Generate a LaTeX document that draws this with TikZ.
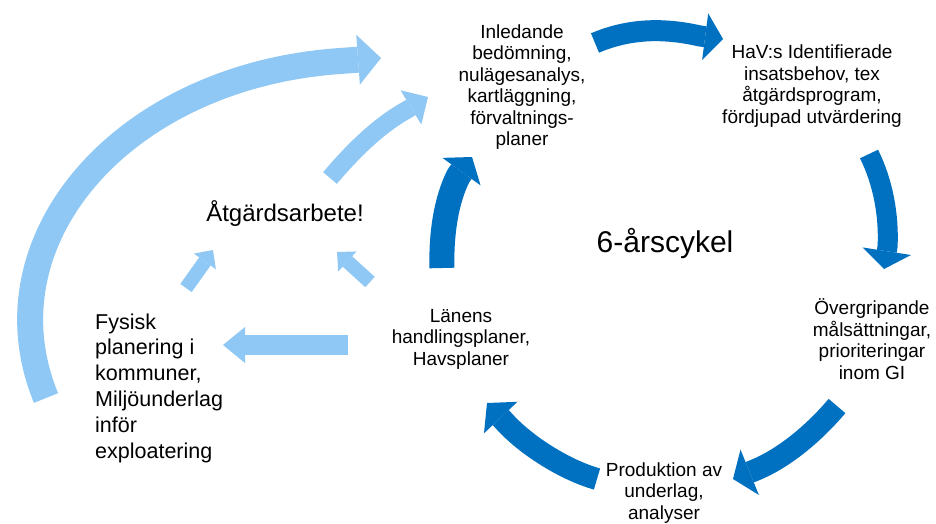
\documentclass[tikz,border=0pt]{standalone}
\usepackage{fontspec}
\setmainfont{Liberation Sans}
\usetikzlibrary{arrows.meta}
\definecolor{darkb}{RGB}{0,112,192}
\definecolor{lightb}{RGB}{143,200,245}
\begin{document}
\begin{tikzpicture}[x=1pt,y=-1pt,
  lbl/.style={font=\fontsize{19}{21.5}\selectfont, align=center, inner sep=0pt},
  darr/.style n args={3}{draw=darkb, line width=#1pt, -{Triangle[width=#2pt,length=#3pt,line width=0pt]}},
  larr/.style n args={3}{draw=lightb, line width=#1pt, -{Triangle[width=#2pt,length=#3pt,line width=0pt]}}]
\fill[white] (0,0) rectangle (936,523);
\useasboundingbox (0,0) rectangle (936,523);

% text nodes
\node[lbl] (inl) at (522,87) {Inledande\\bedömning,\\nulägesanalys,\\kartläggning,\\förvaltnings-\\planer};
\node[lbl] (hav) at (812,86) {HaV:s Identifierade\\insatsbehov, tex\\åtgärdsprogram,\\fördjupad utvärdering};
\node[lbl] (ovr) at (872,339) {Övergripande\\målsättningar,\\prioriteringar\\inom GI};
\node[lbl] (prod) at (664,493) {Produktion av\\underlag,\\analyser};
\node[lbl] (lan) at (461,339) {Länens\\handlingsplaner,\\Havsplaner};
\node[lbl, font=\fontsize{21.5}{25.8}\selectfont, align=left, anchor=west] (fys) at (95,388) {Fysisk\\planering i\\kommuner,\\Miljöunderlag\\inför\\exploatering};
\node[font=\fontsize{24}{28}\selectfont, inner sep=0pt] (atg) at (285,214) {Åtgärdsarbete!};
\node[font=\fontsize{30}{36}\selectfont, inner sep=0pt] (cyc) at (665,244) {6-årscykel};

% dark cycle arrows
\coordinate (a1s) at (595,43);  \coordinate (a1e) at (700,36);  \coordinate (a1t) at (723,39);
\draw[darr={21}{47}{18}] (a1s) .. controls (630,28) and (665,28) .. (a1e) -- (a1t);

\coordinate (a2s) at (869,154); \coordinate (a2e) at (887.6,246); \coordinate (a2t) at (884,269);
\draw[darr={20}{49}{18}] (a2s) .. controls (883,182) and (889,215) .. (a2e) -- (a2t);

\coordinate (a3s) at (837,406); \coordinate (a3e) at (754,470.5); \coordinate (a3t) at (733,479);
\draw[darr={22}{49}{18}] (a3s) .. controls (815,432) and (785,458) .. (a3e) -- (a3t);

\coordinate (a4s) at (597,479); \coordinate (a4e) at (503,420); \coordinate (a4t) at (487,403);
\draw[darr={22}{46}{20}] (a4s) .. controls (565,470) and (525,445) .. (a4e) -- (a4t);

\coordinate (a5s) at (442,268); \coordinate (a5e) at (458.6,175.6); \coordinate (a5t) at (472,157);
\draw[darr={25}{47}{18}] (a5s) .. controls (441,235) and (446,200) .. (a5e) -- (a5t);

% light arrows
\coordinate (b1s) at (46,398); \coordinate (b1e) at (340,61); \coordinate (b1t) at (381,58);
\draw[larr={26}{50}{23}] (b1s) .. controls (-19,240) and (123,76) .. (b1e) -- (b1t);

\coordinate (b2s) at (330,178); \coordinate (b2e) at (405.8,110.5); \coordinate (b2t) at (428,97);
\draw[larr={18}{40}{20}] (b2s) .. controls (352,152) and (378,126) .. (b2e) -- (b2t);

\coordinate (b3s) at (186,288); \coordinate (b3t) at (213,250);
\draw[larr={14}{27}{14}] (b3s) -- (b3t);

\coordinate (b4s) at (370,282); \coordinate (b4t) at (337,252);
\draw[larr={14}{27}{14}] (b4s) -- (b4t);

\coordinate (b5s) at (348,345); \coordinate (b5t) at (223,345);
\draw[larr={20}{36}{22}] (b5s) -- (b5t);
\end{tikzpicture}
\end{document}
